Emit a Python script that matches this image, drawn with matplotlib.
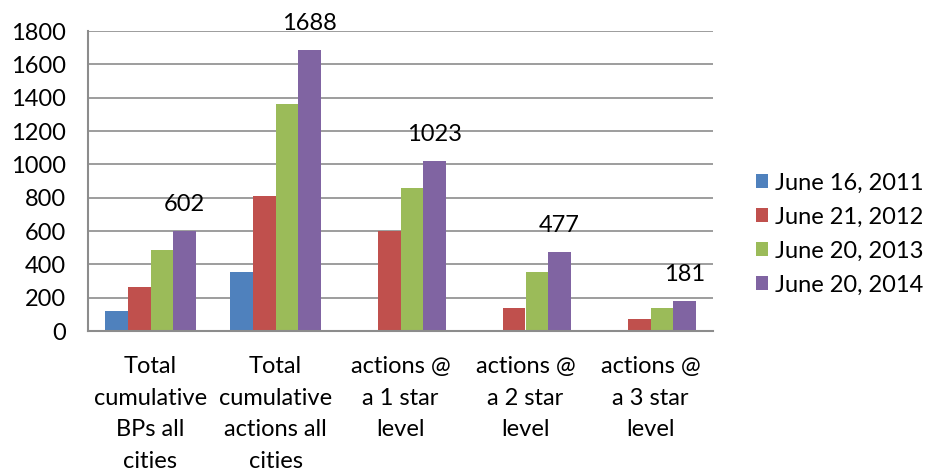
import numpy as np
import matplotlib.pyplot as plt

plt.rcParams['font.family'] = ['Lato', 'DejaVu Sans']

categories = ["Total\ncumulative\nBPs all\ncities",
              "Total\ncumulative\nactions all\ncities",
              "actions @\na 1 star\nlevel",
              "actions @\na 2 star\nlevel",
              "actions @\na 3 star\nlevel"]
series_names = ["June 16, 2011", "June 21, 2012", "June 20, 2013", "June 20, 2014"]
jun2011 = [120, 353, 0, 0, 0]
jun2012 = [265, 813, 598, 138, 72]
jun2013 = [486, 1363, 861, 355, 140]
jun2014 = [602, 1688, 1023, 477, 181]
colors = ["#4F81BD", "#C0504D", "#9BBB59", "#8064A2"]

FS = 17

fig = plt.figure(figsize=(9.27, 4.75), dpi=100)
ax = fig.add_axes([88/927, 144/475, 625/927, 300/475])

x = np.arange(len(categories))
w = 0.182
all_series = [jun2011, jun2012, jun2013, jun2014]
for i, (vals, name, c) in enumerate(zip(all_series, series_names, colors)):
    vals = np.array(vals, dtype=float)
    shown = np.where(vals > 0, vals, np.nan)
    ax.bar(x + (i - 1.5) * w, shown, w, color=c, label=name, zorder=3)
    # only the last series carries data labels
    if i == 3:
        for xi, v in zip(x, vals):
            ax.text(xi + (i - 1.5) * w, v + 95, f"{int(v)}", ha='center', va='bottom',
                    fontsize=FS)

ax.set_xlim(-0.5, len(categories) - 0.5)
ax.set_ylim(0, 1800)
ax.set_yticks(range(0, 1801, 200))
ax.tick_params(axis='y', labelsize=FS, length=0, pad=16)
ax.set_xticks(x)
ax.set_xticklabels(categories, fontsize=FS, linespacing=1.62)
ax.tick_params(axis='x', length=0, pad=18)
ax.grid(axis='y', color='#8c8c8c', linewidth=1.2, zorder=0)
for s in ['right', 'top']:
    ax.spines[s].set_visible(False)
for s in ['left', 'bottom']:
    ax.spines[s].set_color('#8c8c8c')
    ax.spines[s].set_linewidth(1.5)
    ax.spines[s].set_zorder(4)

ax.legend(loc='center left', bbox_to_anchor=(756/927, 241/475),
          bbox_transform=fig.transFigure, frameon=False, borderpad=0,
          borderaxespad=0, fontsize=FS, handlelength=0.5, handleheight=0.5,
          handletextpad=0.3, labelspacing=0.55)

fig.savefig("out.png", dpi=100)
